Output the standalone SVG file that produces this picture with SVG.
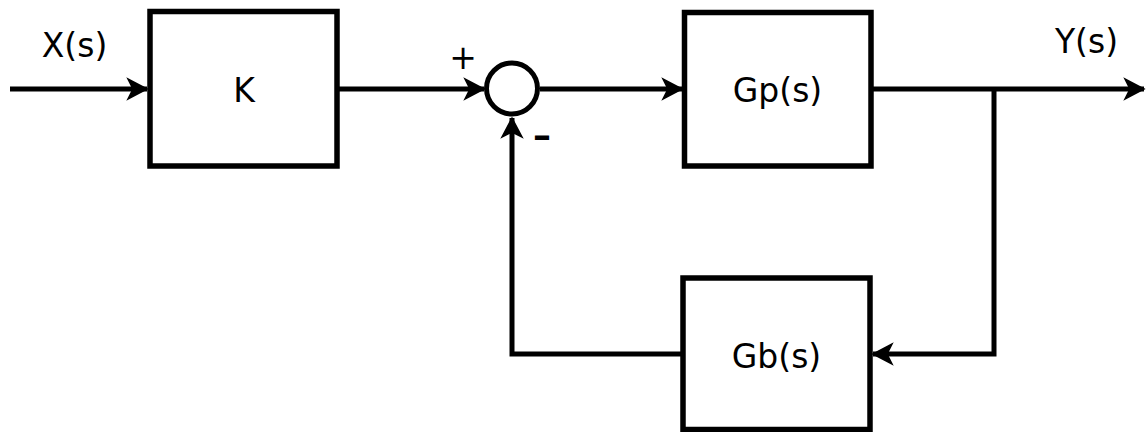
<svg xmlns="http://www.w3.org/2000/svg" width="1146" height="432" viewBox="0 0 1146 432">
<style>
.b{fill:#fff;stroke:#000;stroke-width:5.5}
.c{fill:none;stroke:#000;stroke-width:5}
.t{font-family:"DejaVu Sans",sans-serif;font-size:33px;fill:#000;text-anchor:middle}
.m{font-size:36px;font-weight:bold}
</style>
<defs>
<marker id="ah" markerUnits="userSpaceOnUse" markerWidth="24" markerHeight="24" viewBox="-22 -12 24 24" refX="0" refY="0" orient="auto">
<path d="M0,0 L-19,-10 L-14,0 L-19,10 Z" fill="#000" stroke="#000" stroke-width="1.5" stroke-linejoin="miter"/>
</marker>
</defs>
<rect width="1146" height="432" fill="#fff"/>
<g id="connectors">
<path class="c" d="M10,89 H147" marker-end="url(#ah)"/>
<path class="c" d="M339,89 H484" marker-end="url(#ah)"/>
<path class="c" d="M540,89 H682" marker-end="url(#ah)"/>
<path class="c" d="M873,89 H1144" marker-end="url(#ah)"/>
<path class="c" d="M994,89 V354 H873" marker-end="url(#ah)"/>
<path class="c" d="M681,354 H512 V118" marker-end="url(#ah)"/>
</g>
<g id="K"><rect class="b" x="150" y="11.5" width="187" height="154.5"/><text class="t" x="244" y="102">K</text></g>
<g id="sum"><circle cx="512" cy="88.5" r="25.5" fill="#fff" stroke="#000" stroke-width="5"/></g>
<g id="Gp"><rect class="b" x="684.5" y="12.5" width="186.5" height="153.5"/><text class="t" x="777.5" y="102">Gp(s)</text></g>
<g id="Gb"><rect class="b" x="683" y="278" width="187" height="151.5"/><text class="t" x="776.5" y="368">Gb(s)</text></g>
<g id="labels">
<text class="t" x="74.5" y="57">X(s)</text>
<text class="t" x="1086.5" y="53">Y(s)</text>
<text class="t" x="463" y="69">+</text>
<text class="t m" x="542" y="148">–</text>
</g>
</svg>
